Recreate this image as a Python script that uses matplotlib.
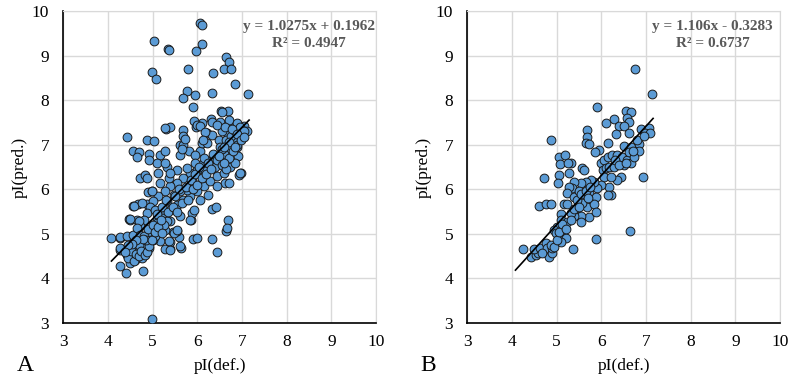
import matplotlib
matplotlib.use("Agg")
import matplotlib.pyplot as plt

plt.rcParams["font.family"] = ["Liberation Serif", "DejaVu Serif"]

# Panel A: pI(def.) vs pI(pred.)
a_x = [6.06, 6.10, 5.04, 5.35, 5.37, 6.10, 5.97, 4.98, 5.07, 5.80, 6.36, 6.64, 6.72, 6.60, 6.75,
       6.84, 7.14, 5.76, 5.67, 5.95, 6.33, 5.90, 6.54, 6.68, 5.93, 5.97, 6.10, 6.30, 5.29, 5.40,
       5.69, 4.42, 4.87, 5.03, 4.56, 4.70, 4.66, 4.93, 4.93, 4.72, 4.84, 4.89, 4.98, 4.57, 4.68,
       4.87, 4.48, 4.08, 4.27, 4.27, 4.27, 4.40, 4.78, 4.99, 6.45, 6.34, 6.32, 6.42, 6.69, 6.64,
       6.62, 6.94, 6.97, 5.90, 5.99, 5.86, 5.89, 5.63, 5.60, 5.38, 5.28, 5.40, 5.54, 5.46,
       5.28, 5.17, 5.28, 5.69, 5.62, 5.69, 5.81, 5.62, 6.07, 5.96, 6.22, 6.33, 6.10, 6.22, 5.99,
       6.07, 6.33, 6.51, 6.70, 6.89, 7.04, 7.11, 7.00, 6.81, 6.89, 6.92, 6.74, 6.59, 6.48, 6.66,
       6.51, 6.37, 6.22, 6.07, 5.99, 5.84, 5.69, 5.55, 5.40, 5.28, 5.13, 5.02, 4.95, 4.87, 4.80,
       5.10, 5.25, 5.40, 5.55, 5.69, 5.84, 5.99, 6.14, 6.29, 6.44, 6.59, 6.74, 6.85, 6.96, 6.70,
       6.44, 6.25, 5.92, 5.62, 5.40, 4.58, 4.76, 4.50, 4.65, 4.72, 5.55, 5.32, 5.13, 4.87, 4.99,
       5.17, 5.36, 5.77, 5.96, 6.18, 6.40, 5.47, 5.77, 6.07, 5.32, 5.06, 6.66, 5.10, 5.28, 5.40,
       5.88, 5.62,
       4.50, 4.69, 4.28, 4.42, 4.57, 4.65, 4.72, 4.87, 4.95, 5.02, 5.10, 5.21, 5.32, 5.84, 4.28,
       4.42, 4.54, 4.65, 4.80, 4.91, 4.57, 4.50, 5.10, 5.17, 5.28, 5.36, 5.39, 5.47, 5.54, 5.62,
       4.76, 4.61, 4.69, 4.91, 5.02, 4.72, 4.83, 6.55, 6.70, 6.89,
       4.40, 4.50, 4.60, 4.70, 4.80, 4.85, 4.90, 5.00, 5.05, 5.10, 5.15, 5.20, 5.25, 5.30, 5.35,
       5.45, 5.50, 5.55, 5.60, 5.65, 5.75, 5.80, 5.85, 5.90, 5.95, 6.00, 6.05, 6.10, 6.15, 6.20,
       6.25, 6.30, 6.35, 6.45, 6.50, 6.55, 6.60, 6.65, 6.70, 6.75, 6.80, 6.85, 6.90, 6.95, 7.00,
       7.05, 6.65, 6.60, 6.55, 6.45, 5.72, 5.65, 6.18, 6.12,
       4.45, 4.52, 4.58, 4.63, 4.70, 4.75, 4.82, 4.88, 4.93, 4.85, 4.78, 4.62, 4.55, 4.98, 5.05,
       5.12, 5.18, 5.22, 4.46, 4.38, 6.62, 6.78, 6.90, 6.98, 7.05, 6.72, 6.55, 6.48, 6.60, 6.85]
a_y = [9.74, 9.69, 9.33, 9.14, 9.13, 9.27, 9.11, 8.64, 8.47, 8.71, 8.62, 8.96, 8.85, 8.70, 8.70,
       8.36, 8.15, 8.20, 8.04, 8.11, 8.17, 7.85, 7.76, 7.76, 7.54, 7.40, 7.49, 7.57, 7.35, 7.40,
       7.33, 7.18, 7.10, 7.08, 6.86, 6.84, 6.73, 6.79, 6.66, 6.25, 6.32, 5.93, 5.95, 5.63, 5.68,
       5.67, 5.33, 4.90, 4.90, 4.64, 4.28, 4.13, 4.17, 3.09, 4.58, 4.89, 5.56, 5.61, 5.30, 5.07,
       6.13, 6.32, 6.36, 4.88, 4.90, 5.30, 5.46, 4.67, 4.92, 4.65, 4.65, 4.82, 5.07, 5.03,
       7.37, 6.78, 6.85, 7.19, 7.00, 7.00, 6.85, 6.78, 6.85, 6.78, 7.26, 7.22, 7.04, 7.04, 7.45,
       7.41, 7.52, 7.52, 7.52, 7.45, 7.41, 7.30, 7.22, 7.11, 6.96, 6.74, 6.89, 7.00, 7.11, 7.26,
       6.74, 6.70, 6.63, 6.55, 6.44, 6.36, 6.25, 6.14, 6.07, 5.95, 5.84, 5.73, 5.60, 5.47, 5.32,
       5.32, 5.43, 5.54, 5.65, 5.77, 5.84, 5.95, 6.07, 6.18, 6.29, 6.36, 6.51, 6.59, 6.36, 6.14,
       6.07, 5.88, 5.54, 5.39, 5.28, 5.62, 5.69, 5.32, 5.32, 5.17, 6.44, 6.51, 6.36, 6.25, 5.95,
       6.14, 6.25, 6.48, 6.59, 6.40, 6.51, 5.88, 5.99, 5.77, 5.73, 5.54, 5.13, 6.59, 6.59, 6.36,
       6.18, 5.95,
       5.34, 5.29, 4.92, 4.94, 4.98, 5.13, 4.83, 4.90, 5.05, 5.13, 5.24, 5.35, 5.28, 5.31, 4.68,
       4.53, 4.68, 4.72, 4.64, 4.68, 4.49, 4.34, 4.94, 4.83, 5.09, 4.83, 4.64, 5.01, 5.09, 4.72,
       4.45, 4.42, 4.57, 4.79, 4.87, 4.98, 4.75, 7.74, 7.56, 7.48,
       4.60, 4.55, 4.80, 4.75, 4.95, 4.60, 5.10, 5.20, 4.95, 5.45, 5.10, 5.60, 5.20, 5.75, 5.50,
       5.60, 5.85, 5.50, 6.00, 5.70, 6.05, 5.75, 6.20, 6.00, 6.35, 6.10, 6.50, 6.25, 6.70, 6.35,
       6.60, 6.45, 6.80, 6.65, 6.95, 6.55, 6.80, 7.10, 6.70, 7.20, 6.85, 7.30, 7.00, 7.40, 7.20,
       7.30, 6.45, 6.60, 7.30, 7.45, 7.12, 6.90, 7.28, 7.10,
       4.45, 4.62, 4.38, 4.55, 4.50, 4.62, 4.52, 4.58, 4.72, 4.85, 4.88, 4.85, 4.78, 4.85, 5.05,
       5.15, 5.30, 5.02, 4.75, 4.60, 7.40, 7.35, 7.25, 7.10, 7.18, 7.05, 6.90, 6.75, 6.95, 6.95]

# Panel B
b_x = [6.76, 7.14, 5.90, 6.55, 6.67, 6.10, 6.29, 6.58, 6.62, 6.40, 6.50, 6.33, 6.61, 6.90, 7.07,
       6.99, 7.09, 5.69, 5.69, 5.65, 5.73, 4.87, 5.95, 5.86, 6.14, 6.52, 6.66, 6.85, 6.85, 5.05,
       5.18, 5.33, 5.08, 5.26, 4.72, 5.06, 5.03, 5.28, 5.58, 5.61, 5.99, 6.06, 6.14, 6.25, 6.36,
       6.03, 6.10, 6.17, 6.29, 6.06, 6.44, 6.36, 6.21, 6.17, 6.21, 6.14, 6.94, 6.47, 6.58, 6.66,
       6.51, 6.62, 6.73, 5.99, 5.91, 5.84, 5.76, 5.65, 5.54, 5.39, 5.35, 5.28, 5.24, 5.39, 5.50,
       5.61, 5.73, 5.80, 5.69, 5.88, 5.84, 5.58, 5.46, 5.73, 5.54, 5.39, 5.32, 5.88, 5.54, 5.17,
       5.23, 4.61, 4.76, 4.87, 5.09, 5.10, 5.24, 5.32, 5.02, 5.12, 5.05, 4.94, 4.98, 5.15, 5.20,
       5.09, 5.88, 5.37, 6.64, 4.25, 4.43, 4.53, 4.59, 4.49, 4.64, 4.76, 4.79, 4.83, 4.90, 4.90,
       4.87, 4.68,
       4.95, 5.00, 5.05, 5.12, 5.20, 5.40, 5.45, 5.50, 5.55, 5.65, 5.70, 5.75, 6.30, 6.40, 6.55,
       6.70, 6.80, 6.95]
b_y = [8.70, 8.15, 7.85, 7.76, 7.74, 7.49, 7.57, 7.61, 7.52, 7.43, 7.43, 7.23, 7.27, 7.35, 7.38,
       7.26, 7.26, 7.33, 7.18, 7.03, 7.02, 7.11, 6.88, 6.83, 7.03, 6.97, 6.96, 7.02, 6.87, 6.73,
       6.76, 6.58, 6.56, 6.58, 6.25, 6.32, 6.13, 6.36, 6.47, 6.43, 6.58, 6.66, 6.73, 6.77, 6.77,
       6.43, 6.47, 6.51, 6.51, 6.28, 6.28, 6.21, 6.28, 6.06, 5.87, 5.86, 6.28, 6.73, 6.66, 6.58,
       6.54, 6.84, 6.73, 6.10, 6.02, 6.17, 6.21, 6.17, 6.13, 6.17, 6.02, 6.06, 5.91, 5.83, 5.95,
       5.83, 5.91, 5.76, 5.61, 5.83, 5.68, 5.69, 5.57, 5.38, 5.40, 5.39, 5.46, 5.48, 5.27, 5.67,
       5.67, 5.63, 5.68, 5.67, 5.44, 5.31, 5.27, 5.31, 5.16, 5.09, 4.94, 5.09, 5.01, 4.98, 4.90,
       4.82, 4.88, 4.65, 5.06, 4.65, 4.47, 4.52, 4.56, 4.65, 4.67, 4.79, 4.67, 4.49, 4.56, 4.67,
       4.75, 4.56,
       4.70, 4.85, 5.05, 5.22, 5.10, 5.55, 5.75, 5.60, 5.90, 5.95, 5.80, 6.05, 6.65, 6.55, 6.60,
       6.85, 7.10, 7.20]

# trendline coefficients shown on the chart
a_fit = (1.0275, 0.1962)
b_fit = (1.106, -0.3283)
a_eq = ["y = 1.0275x + 0.1962", "R² = 0.4947"]
b_eq = ["y = 1.106x - 0.3283", "R² = 0.6737"]
trend_x = [4.08, 7.16]

ticks = [3, 4, 5, 6, 7, 8, 9, 10]

fig = plt.figure(figsize=(8, 3.83), dpi=100)

panels = [
    (0.079, a_x, a_y, a_fit, a_eq, "A", 0.032),
    (0.584, b_x, b_y, b_fit, b_eq, "B", 0.535),
]

for left, xs, ys, fit, eq, letter, lx in panels:
    ax = fig.add_axes([left, 0.157, 0.391, 0.814])
    ax.set_xlim(3, 10)
    ax.set_ylim(3, 10)
    ax.set_xticks(ticks)
    ax.set_yticks(ticks)
    ax.grid(True, color="#d9d9d9", linewidth=1)
    ax.set_axisbelow(True)
    ax.tick_params(axis="x", length=0, labelsize=12.5, pad=8)
    ax.tick_params(axis="y", length=0, labelsize=12.5, pad=10)
    for s in ["top", "right"]:
        ax.spines[s].set_color("#d9d9d9")
    for s in ["left", "bottom"]:
        ax.spines[s].set_color("black")
        ax.spines[s].set_linewidth(1.2)

    ax.scatter(xs, ys, s=40, color="#5b9bd5", edgecolors="#1a1a1a", linewidths=0.7, zorder=3)

    ty = [fit[0] * v + fit[1] for v in trend_x]
    ax.plot(trend_x, ty, color="black", linewidth=1.2, zorder=4)

    ax.text(0.785, 0.952, eq[0], transform=ax.transAxes, ha="center", va="center",
            fontsize=11, fontweight="bold", color="#595959")
    ax.text(0.785, 0.897, eq[1], transform=ax.transAxes, ha="center", va="center",
            fontsize=11, fontweight="bold", color="#595959")

    ax.set_xlabel("pI(def.)", fontsize=12.5, labelpad=6)
    ax.set_ylabel("pI(pred.)", fontsize=12.5, labelpad=3)
    fig.text(lx, 0.045, letter, fontsize=17, ha="center", va="center")

fig.savefig("out.png", dpi=100)
